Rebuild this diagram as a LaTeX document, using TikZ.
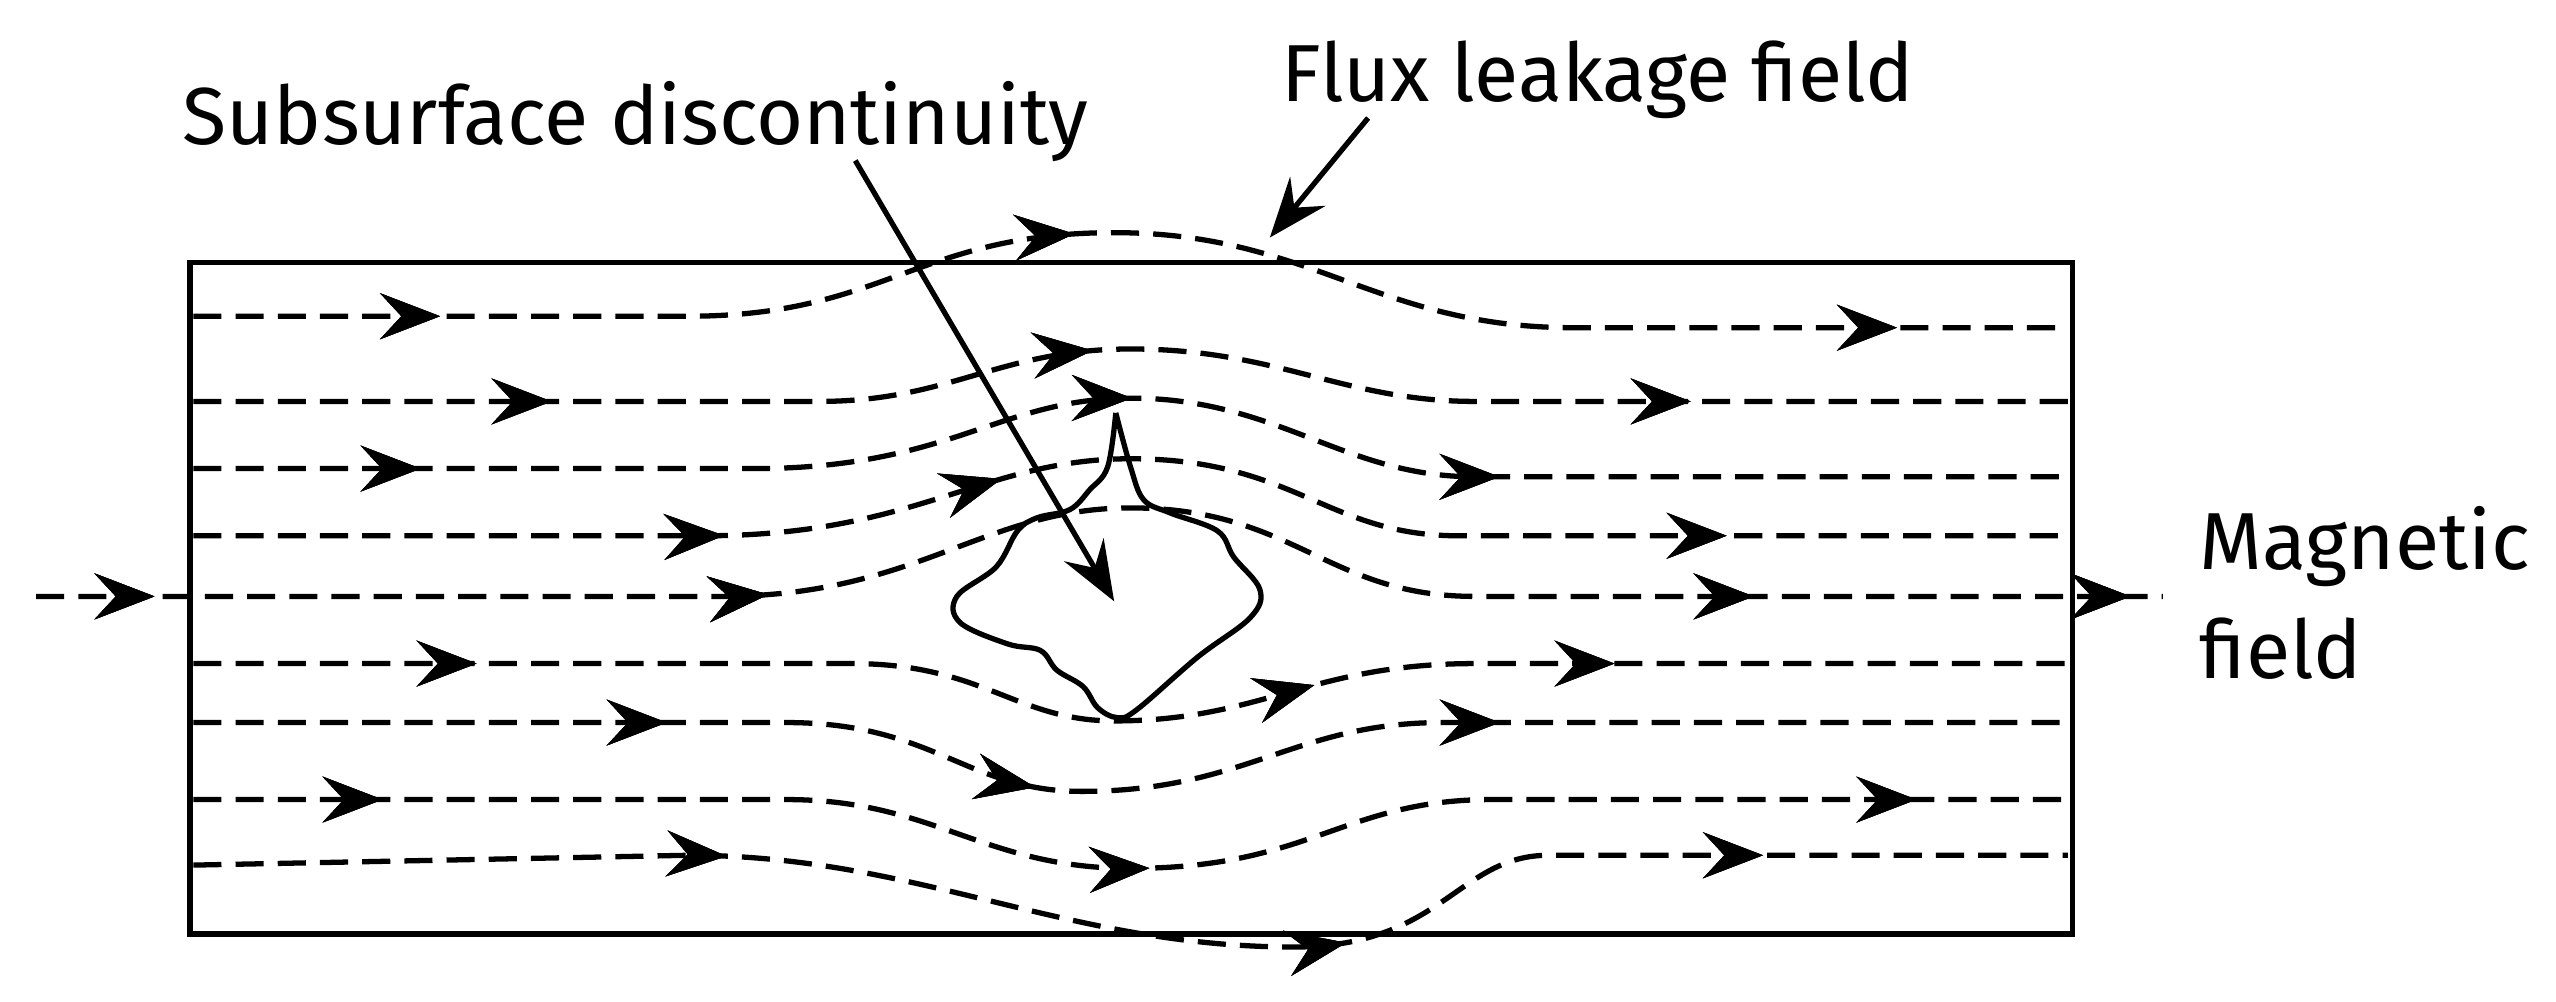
\documentclass[tikz,border=0pt]{standalone}
\usepackage{fontspec}
\setmainfont{Fira Sans}
\usetikzlibrary{arrows.meta, decorations.markings}
\tikzset{
  fieldline/.style = {line width=1.5pt, dash pattern=on 8pt off 4pt},
  tip/.style = {-{Stealth[length=17pt,width=13pt,inset=6pt]}},
  mk/.style = {postaction={decorate}, decoration={markings,
      mark=at position #1 with {\arrow{Stealth[length=17pt,width=13pt,inset=6pt]}}}},
  leader/.style = {line width=1.5pt, tip},
  label/.style = {font=\fontsize{23}{31}\selectfont, inner sep=0pt}
}
\begin{document}
\begin{tikzpicture}[x=0.01638cm, y=-0.01638cm]
  \useasboundingbox (0,0) rectangle (1560,611);
  % bar
  \draw[line width=1.5pt] (116,160) rectangle (1265,570);

  % field lines, top to bottom
  \draw[fieldline, mk=0.13, mk=0.47, mk=0.91]
    (118,193) -- (420,193) .. controls (540,193) and (560,142) .. (680,142)
    .. controls (800,142) and (840,200) .. (960,200) -- (1262,200);
  \draw[fieldline, mk=0.19, mk=0.48, mk=0.80]
    (118,245) -- (500,245) .. controls (580,245) and (610,213) .. (690,213)
    .. controls (780,213) and (820,245) .. (900,245) -- (1262,245);
  \draw[fieldline, mk=0.12, mk=0.50, mk=0.70]
    (118,286) -- (460,286) .. controls (580,286) and (610,243) .. (690,243)
    .. controls (780,243) and (820,291) .. (900,291) -- (1262,291);
  \draw[fieldline, mk=0.28, mk=0.43, mk=0.82]
    (118,327) -- (430,327) .. controls (560,327) and (600,280) .. (690,280)
    .. controls (790,280) and (810,327) .. (890,327) -- (1262,327);
  \draw[fieldline, mk=0.055, mk=0.34, mk=0.81, mk=0.985]
    (22,364) -- (440,364) .. controls (560,364) and (600,310) .. (690,310)
    .. controls (790,310) and (810,364) .. (900,364) -- (1320,364);
  \draw[fieldline, mk=0.15, mk=0.60, mk=0.76]
    (118,405) -- (520,405) .. controls (600,405) and (620,440) .. (680,440)
    .. controls (770,440) and (800,405) .. (900,405) -- (1262,405);
  \draw[fieldline, mk=0.25, mk=0.45, mk=0.70]
    (118,441) -- (480,441) .. controls (570,441) and (590,483) .. (660,483)
    .. controls (760,483) and (790,441) .. (880,441) -- (1262,441);
  \draw[fieldline, mk=0.10, mk=0.51, mk=0.92]
    (118,488) -- (480,488) .. controls (570,488) and (600,530) .. (690,530)
    .. controls (800,530) and (820,488) .. (910,488) -- (1262,488);
  \draw[fieldline, mk=0.28, mk=0.61, mk=0.84]
    (118,528) -- (420,522) .. controls (560,522) and (650,578) .. (790,578)
    .. controls (880,578) and (890,522) .. (945,522) -- (1262,522);

  % discontinuity
  \draw[line width=1.5pt] plot[smooth, tension=0.6] coordinates {
    (681,252) (690,285) (698,305) (714,313) (743,324) (753,340) (769,360)
    (763,377) (731,401) (694,433) (682,438) (670,432) (661,419) (645,409)
    (635,397) (615,393) (586,380) (584,364) (608,346) (621,324) (633,316)
    (653,311) (665,299) (676,285) (681,252)};
  \coordinate (flaw) at (680,367);
  \coordinate (leak) at (775,145);

  % labels
  \node[label, anchor=base] (sub) at (388,88) {Subsurface discontinuity};
  \node[label, anchor=base] (flux) at (975,62) {Flux leakage field};
  \node[label, anchor=west, align=left] (mag) at (1342,362) {Magnetic\\field};

  \draw[leader] (522,98) -- (flaw);
  \draw[leader] (835,72) -- (leak);
\end{tikzpicture}
\end{document}
